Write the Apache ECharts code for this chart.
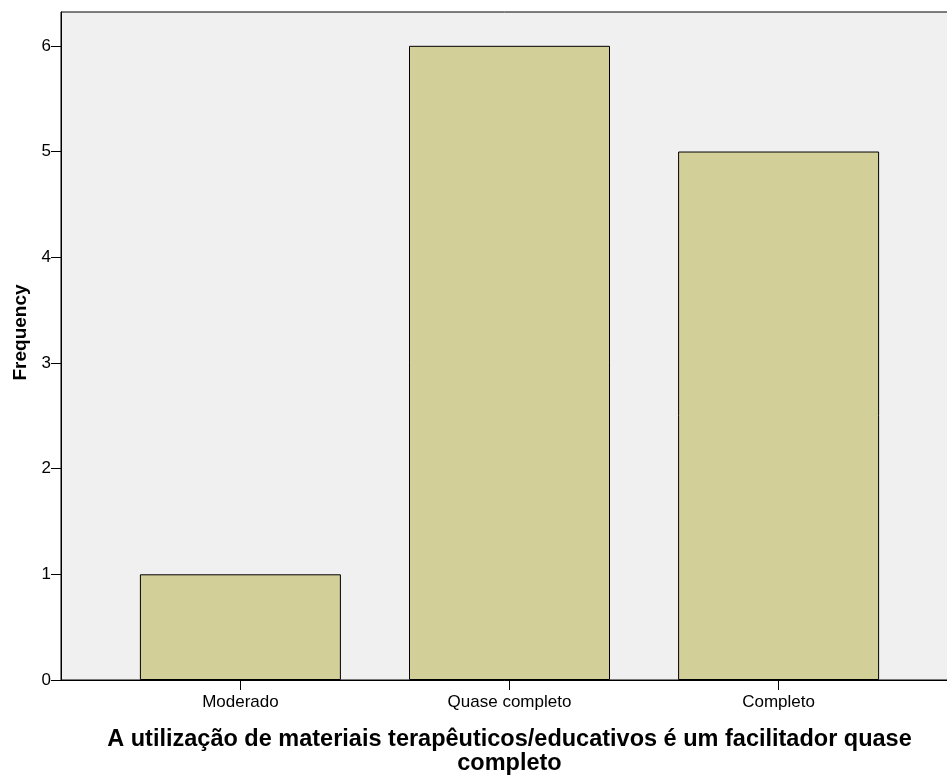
<!DOCTYPE html>
<html>
<head>
<meta charset="utf-8">
<script src="https://cdn.jsdelivr.net/npm/echarts@6/dist/echarts.min.js"></script>
<style>
html,body{margin:0;padding:0;background:#fff;overflow:hidden;}
#chart{width:947px;height:775px;}
</style>
</head>
<body>
<div id="chart"></div>
<script>
var categories = ['Moderado', 'Quase completo', 'Completo'];
var frequencies = [1, 6, 5];
var yTicks = [0, 1, 2, 3, 4, 5, 6];
var xTitle = 'A utilização de materiais terapêuticos/educativos é um facilitador quase\ncompleto';
var yTitle = 'Frequency';

var positions = categories.map(function (c, i) { return i + 1; });
var barData = categories.map(function (c, i) { return [i + 1, frequencies[i]]; });

var chart = echarts.init(document.getElementById('chart'), null, {renderer: 'canvas', width: 947, height: 775});
chart.setOption({
  animation: false,
  textStyle: {fontFamily: 'Liberation Sans, Arial, sans-serif'},
  grid: {
    left: 61, top: 12, width: 897, height: 668,
    outerBoundsMode: 'none',
    containLabel: false,
    show: true, backgroundColor: '#F0F0F0', borderColor: '#000', borderWidth: 1
  },
  xAxis: {
    type: 'value',
    min: 1 / 3,
    max: 11 / 3,
    name: xTitle,
    nameLocation: 'middle',
    nameGap: 48,
    nameTextStyle: {fontSize: 23.5, fontWeight: 'bold', color: '#000', lineHeight: 24, fontFamily: 'Liberation Sans, Arial, sans-serif'},
    axisLine: {show: true, lineStyle: {color: '#000', width: 1}},
    axisTick: {show: true, customValues: positions, length: 10, lineStyle: {color: '#000'}},
    axisLabel: {
      customValues: positions, margin: 14, fontSize: 17, color: '#000',
      formatter: function (v) { return categories[Math.round(v) - 1] || ''; }
    },
    splitLine: {show: false}
  },
  yAxis: {
    type: 'value',
    min: 0,
    max: 6.32,
    name: yTitle,
    nameLocation: 'middle',
    nameGap: 28,
    nameTextStyle: {fontSize: 19, fontWeight: 'bold', color: '#000', padding: [0, 0, 0, 27]},
    axisLine: {show: true, lineStyle: {color: '#000', width: 1}},
    axisTick: {show: true, customValues: yTicks, length: 10, lineStyle: {color: '#000'}},
    axisLabel: {customValues: yTicks, margin: 10, fontSize: 17, color: '#000'},
    splitLine: {show: false}
  },
  series: [{
    type: 'bar',
    data: barData,
    barWidth: 201,
    itemStyle: {color: '#D3CF99', borderColor: '#000', borderWidth: 1}
  }]
});
</script>
</body>
</html>
